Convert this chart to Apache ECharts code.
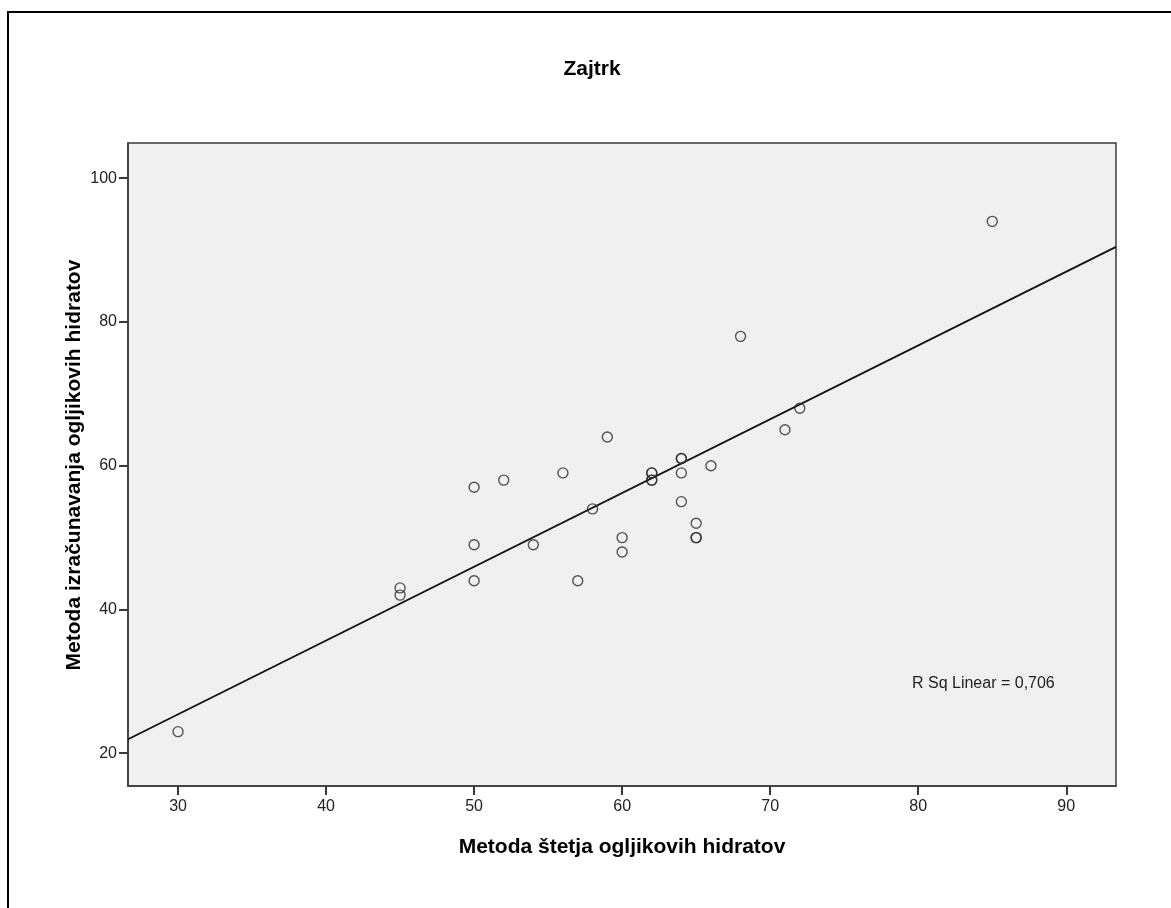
<!DOCTYPE html>
<html>
<head>
<meta charset="utf-8">
<script src="https://cdn.jsdelivr.net/npm/echarts@6/dist/echarts.min.js"></script>
<style>
  html, body { margin: 0; padding: 0; background: #ffffff; }
  #chart { width: 1171px; height: 908px; }
</style>
</head>
<body>
<div id="chart"></div>
<script>
// ---- data ----
const xCounting = [30, 45, 45, 50, 50, 50, 52, 54, 56, 57, 58, 59, 60, 60, 62, 62, 62, 62, 64, 64, 64, 64, 65, 65, 65, 66, 68, 71, 72, 85];
const yCalculation = [23, 43, 42, 57, 49, 44, 58, 49, 59, 44, 54, 64, 50, 48, 59, 59, 58, 58, 61, 61, 59, 55, 52, 50, 50, 60, 78, 65, 68, 94];
const fitLineX = [26.62, 93.36];
const fitLineY = [21.95, 90.45];
const xTickValues = [30, 40, 50, 60, 70, 80, 90];
const yTickValues = [20, 40, 60, 80, 100];
const chartTitle = 'Zajtrk';
const xAxisTitle = 'Metoda štetja ogljikovih hidratov';
const yAxisTitle = 'Metoda izračunavanja ogljikovih hidratov';
const rSqText = 'R Sq Linear = 0,706';

const FONT = "'Liberation Sans', Arial, sans-serif";
const points = xCounting.map((x, i) => [x, yCalculation[i]]);
const fitLine = fitLineX.map((x, i) => [x, fitLineY[i]]);

const chart = echarts.init(document.getElementById('chart'), null, { renderer: 'canvas' });
chart.setOption({
  backgroundColor: '#ffffff',
  animation: false,
  grid: {
    left: 128, top: 143, width: 988, height: 643,
    show: true, backgroundColor: '#f0f0f0', borderColor: '#3a3a3a', borderWidth: 1.5,
    containLabel: false
  },
  xAxis: {
    type: 'value', min: 26.62, max: 93.36,
    axisLine: { show: true, lineStyle: { color: '#3a3a3a', width: 1.5 } },
    axisTick: { show: true, length: 9, customValues: xTickValues, lineStyle: { color: '#3a3a3a', width: 2 } },
    axisLabel: { customValues: xTickValues, margin: 13, color: '#222', fontSize: 16, fontFamily: FONT },
    splitLine: { show: false }
  },
  yAxis: {
    type: 'value', min: 15.44, max: 104.9,
    axisLine: { show: true, lineStyle: { color: '#3a3a3a', width: 1.5 } },
    axisTick: { show: true, length: 9, customValues: yTickValues, lineStyle: { color: '#3a3a3a', width: 2 } },
    axisLabel: { customValues: yTickValues, margin: 11, color: '#222', fontSize: 16, fontFamily: FONT },
    splitLine: { show: false }
  },
  series: [
    {
      type: 'line', data: fitLine, symbol: 'none', silent: true,
      lineStyle: { color: '#111', width: 1.8 }, z: 2
    },
    {
      type: 'scatter', data: points, symbol: 'circle', symbolSize: 10,
      itemStyle: { color: 'rgba(0,0,0,0)', borderColor: '#2a2a2a', borderWidth: 1.4 }, z: 3
    }
  ],
  graphic: [
    { type: 'polyline', shape: { points: [[8, 908], [8, 12], [1171, 12]] },
      style: { stroke: '#000', lineWidth: 2, fill: null }, silent: true },
    { type: 'text', left: 'center', x: 0, style: { text: '' } },
    { type: 'text', x: 592, y: 69, style: { text: chartTitle, font: "bold 21px " + FONT, fill: '#000', align: 'center', verticalAlign: 'middle' } },
    { type: 'text', x: 622, y: 847, style: { text: xAxisTitle, font: "bold 21px " + FONT, fill: '#000', align: 'center', verticalAlign: 'middle' } },
    { type: 'text', x: 74, y: 465, rotation: Math.PI / 2, style: { text: yAxisTitle, font: "bold 21px " + FONT, fill: '#000', align: 'center', verticalAlign: 'middle' } },
    { type: 'text', x: 912, y: 684, style: { text: rSqText, font: "16px " + FONT, fill: '#222', align: 'left', verticalAlign: 'middle' } }
  ]
});
</script>
</body>
</html>
